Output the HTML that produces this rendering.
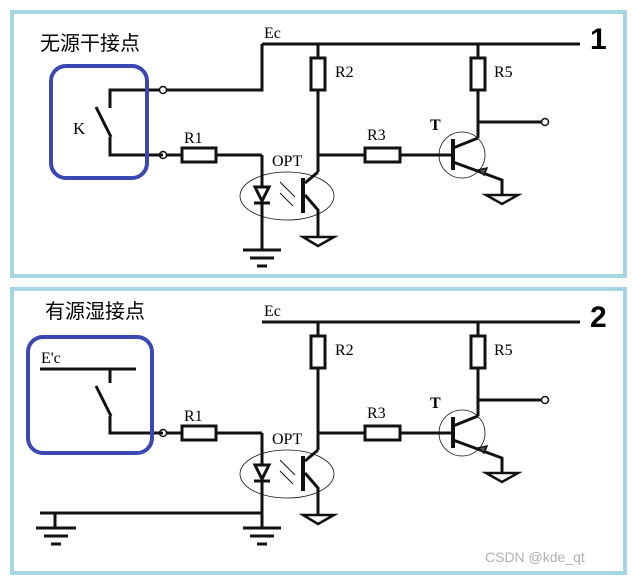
<!DOCTYPE html>
<html><head><meta charset="utf-8"><style>
html,body{margin:0;padding:0;background:#fff;}
svg{display:block;}
text{font-family:"Liberation Serif",serif;fill:#000;}
.cn{font-family:"Liberation Sans","Noto Sans CJK SC",sans-serif;}
</style></head><body>
<svg width="633" height="578" viewBox="0 0 633 578" xmlns="http://www.w3.org/2000/svg">
<defs>
<g id="circ" stroke="#111" stroke-width="3" fill="none">
  <line x1="262" y1="44" x2="580" y2="44"/>
  <line x1="163" y1="155" x2="262" y2="155"/>
  <rect x="182" y="148" width="34" height="14" fill="#fff"/>
  <circle cx="163" cy="155" r="3.5" fill="#fff" stroke-width="1.5"/>
  <line x1="262" y1="155" x2="262" y2="250"/>
  <polygon points="255,187 269,187 262,201" fill="#fff" stroke-width="3"/>
  <line x1="254" y1="203" x2="270" y2="203"/>
  <line x1="243" y1="250" x2="281" y2="250"/>
  <line x1="250" y1="258" x2="274" y2="258"/>
  <line x1="257" y1="266" x2="267" y2="266"/>
  <g stroke-width="1"><line x1="280" y1="182" x2="295" y2="197"/><line x1="280" y1="193" x2="293" y2="206"/></g>
  <ellipse cx="287" cy="196" rx="47" ry="24" stroke-width="0.8"/>
  <line x1="318" y1="44" x2="318" y2="172"/>
  <rect x="311" y="58" width="14" height="32" fill="#fff"/>
  <line x1="303" y1="178" x2="303" y2="213" stroke-width="4"/>
  <polyline points="318,172 305,183"/>
  <polyline points="305,195 318,210 318,237"/>
  <polygon points="303,237 334,237 318,246" fill="#fff" stroke-width="2.5"/>
  <line x1="318" y1="155" x2="452" y2="155"/>
  <rect x="365" y="148" width="35" height="14" fill="#fff"/>
  <line x1="478" y1="44" x2="478" y2="138"/>
  <rect x="471" y="58" width="14" height="32" fill="#fff"/>
  <line x1="478" y1="122" x2="542" y2="122"/>
  <circle cx="545" cy="122" r="3.5" fill="#fff" stroke-width="1.5"/>
  <circle cx="462" cy="155" r="23" stroke-width="0.8"/>
  <line x1="453" y1="139" x2="453" y2="170" stroke-width="4"/>
  <line x1="453" y1="148" x2="478" y2="138"/>
  <polyline points="453,162 502,180 502,195"/>
  <polygon points="478,170 487,168 484,175" fill="#555" stroke-width="1.5"/>
  <polygon points="486,195 518,195 502,204" fill="#fff" stroke-width="2.5"/>
</g>
</defs>

<rect x="12" y="12" width="613" height="264" fill="none" stroke="#a6d6e2" stroke-width="4"/>
<text class="cn" x="40" y="50" font-size="20">无源干接点</text>
<text x="264" y="38" font-size="16">Ec</text>
<text x="590" y="49" font-size="30" font-weight="bold" style="font-family:'Liberation Sans',sans-serif">1</text>
<use href="#circ"/>
<g stroke="#111" stroke-width="3" fill="none">
  <polyline points="163,90 262,90 262,44"/>
  <polyline points="110,108 110,90 163,90"/>
  <line x1="96" y1="107" x2="111" y2="137"/>
  <polyline points="110,137 110,155 163,155"/>
  <circle cx="163" cy="90" r="3.5" fill="#fff" stroke-width="1.5"/>
</g>
<rect x="51" y="66" width="96" height="112" rx="15" fill="none" stroke="#3b47b3" stroke-width="4"/>
<text x="73" y="134" font-size="17">K</text>
<text x="184" y="143" font-size="16">R1</text>
<text x="272" y="166" font-size="16">OPT</text>
<text x="335" y="77" font-size="16">R2</text>
<text x="367" y="140" font-size="16">R3</text>
<text x="494" y="77" font-size="16">R5</text>
<text x="430" y="130" font-size="16" font-weight="bold">T</text>

<rect x="12" y="289" width="613" height="284" fill="none" stroke="#a6d6e2" stroke-width="4"/>
<text class="cn" x="45" y="318" font-size="20">有源湿接点</text>
<text x="264" y="316" font-size="16">Ec</text>
<text x="590" y="327" font-size="30" font-weight="bold" style="font-family:'Liberation Sans',sans-serif">2</text>
<use href="#circ" transform="translate(0,278)"/>
<g stroke="#111" stroke-width="3" fill="none">
  <line x1="40" y1="369" x2="136" y2="369"/>
  <line x1="110" y1="369" x2="110" y2="383"/>
  <line x1="96" y1="386" x2="111" y2="416"/>
  <polyline points="110,416 110,433 163,433"/>
  <line x1="40" y1="513" x2="262" y2="513"/>
  <line x1="55" y1="513" x2="55" y2="528"/>
  <line x1="36" y1="528" x2="76" y2="528"/>
  <line x1="44" y1="536" x2="68" y2="536"/>
  <line x1="51" y1="544" x2="61" y2="544"/>
</g>
<rect x="28" y="337" width="124" height="116" rx="15" fill="none" stroke="#3b47b3" stroke-width="4"/>
<text x="41" y="363" font-size="16">E'c</text>
<text x="184" y="421" font-size="16">R1</text>
<text x="272" y="444" font-size="16">OPT</text>
<text x="335" y="355" font-size="16">R2</text>
<text x="367" y="418" font-size="16">R3</text>
<text x="494" y="355" font-size="16">R5</text>
<text x="430" y="408" font-size="16" font-weight="bold">T</text>

<text x="485" y="562" font-size="14" style="font-family:'Liberation Sans',sans-serif;fill:#b0b0b0">CSDN @kde_qt</text>
</svg>
</body></html>
